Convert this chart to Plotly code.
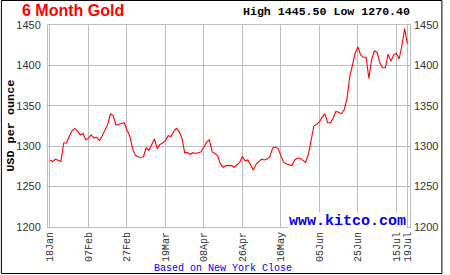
import pandas as pd
import plotly.graph_objects as go

# ---- data ----
dates = pd.bdate_range("2019-01-18", "2019-07-19")
categories = [d.strftime("%d%b") for d in dates]

prices = [
    1283, 1281, 1284, 1282, 1281, 1304, 1304, 1312, 1319, 1322,
    1319, 1314, 1316, 1308, 1310, 1314, 1310, 1311, 1307, 1313,
    1320, 1327, 1340, 1338, 1326, 1327, 1328, 1329, 1320, 1313,
    1298, 1289, 1287, 1286, 1287, 1298, 1295, 1302, 1309, 1297,
    1302, 1304, 1307, 1313, 1312, 1318, 1322, 1318, 1310, 1292,
    1292, 1290, 1292, 1291, 1292, 1293, 1299, 1305, 1308, 1293,
    1291, 1288, 1278, 1274, 1276, 1276, 1276, 1274, 1277, 1280,
    1287, 1282, 1283, 1276, 1270.4, 1278, 1281, 1284, 1283, 1284,
    1287, 1298, 1299, 1297, 1288, 1280, 1278, 1277, 1276, 1283,
    1285, 1285, 1282, 1280, 1290, 1308, 1325, 1327, 1330, 1336,
    1340, 1329, 1329, 1335, 1343, 1342, 1340, 1345, 1358, 1385,
    1399, 1415, 1423, 1413, 1410, 1410, 1384, 1407, 1418, 1416,
    1403, 1397, 1397, 1414, 1405, 1413, 1415, 1408, 1424, 1445.5,
    1427,
]

tick_labels = ["18Jan", "07Feb", "27Feb", "19Mar", "08Apr", "26Apr",
               "16May", "05Jun", "25Jun", "15Jul", "19Jul"]
y_ticks = [1200, 1250, 1300, 1350, 1400, 1450]

title_text = "6 Month Gold"
high_low_text = "High 1445.50 Low 1270.40"
y_title = "USD per ounce"
footer_text = "Based on New York Close"
brand_text = "www.kitco.com"

# ---- geometry (pixels) ----
W, H = 450, 275
L, R, T, B = 48, 33, 25, 48
PW, PH = W - L - R, H - T - B


def px(x):
    return (x - L) / PW


def py(y):
    return (H - B - y) / PH


GRID = "#bdbdbd"
TXT = "#333333"

fig = go.Figure()
fig.add_trace(go.Scatter(x=categories, y=prices, mode="lines",
                         line=dict(color="#ff0000", width=1.1),
                         hoverinfo="skip", showlegend=False))
fig.add_trace(go.Scatter(x=categories, y=prices, mode="lines", yaxis="y2",
                         line=dict(color="rgba(0,0,0,0)", width=0),
                         hoverinfo="skip", showlegend=False))

n = len(categories)
xr = [-0.71, (n - 1) + 0.96]

fig.update_layout(
    width=W, height=H,
    margin=dict(l=L, r=R, t=T, b=B, pad=0),
    paper_bgcolor="white", plot_bgcolor="white",
    showlegend=False,
    xaxis=dict(type="category", range=xr, tickmode="array",
               tickvals=tick_labels, ticktext=tick_labels,
               tickangle=-90, tickfont=dict(family="Liberation Mono", size=10, color=TXT),
               showgrid=True, gridcolor=GRID, gridwidth=1,
               showline=True, linecolor=GRID, linewidth=1, mirror=True,
               ticks="", zeroline=False, fixedrange=True),
    yaxis=dict(range=[1200, 1450], tickvals=y_ticks,
               tickfont=dict(family="Liberation Sans", size=11, color=TXT),
               showgrid=True, gridcolor=GRID, gridwidth=1,
               showline=True, linecolor=GRID, linewidth=1, mirror=True,
               ticks="", zeroline=False, ticklabelstandoff=4),
    yaxis2=dict(range=[1200, 1450], tickvals=y_ticks, overlaying="y", side="right",
                tickfont=dict(family="Liberation Sans", size=11, color=TXT),
                showgrid=False, showline=False, ticks="", zeroline=False,
                ticklabelstandoff=3),
)

ann = []
ann.append(dict(text="<b>%s</b>" % title_text, x=px(20), y=py(10.5), xref="paper", yref="paper",
                xanchor="left", yanchor="middle", showarrow=False, borderpad=0,
                font=dict(family="Liberation Sans", size=16, color="#ff0000")))
ann.append(dict(text="<b>%s</b>" % high_low_text, x=px(419), y=py(11.5), xref="paper", yref="paper",
                xanchor="right", yanchor="middle", showarrow=False,
                font=dict(family="Liberation Mono", size=11.6, color="#000000")))
ann.append(dict(text="<b>%s</b>" % y_title, x=px(10), y=py(126), xref="paper", yref="paper",
                xanchor="center", yanchor="middle", showarrow=False, textangle=-90,
                font=dict(family="Liberation Mono", size=11.8, color="#000000")))
ann.append(dict(text=footer_text, x=px(226), y=py(268.5), xref="paper", yref="paper",
                xanchor="center", yanchor="middle", showarrow=False,
                font=dict(family="Liberation Mono", size=10, color="#0000ff")))
ann.append(dict(text="<b>%s</b>" % brand_text, x=px(293), y=py(221.5), xref="paper", yref="paper",
                xanchor="left", yanchor="middle", showarrow=False, bgcolor="white",
                borderpad=0,
                font=dict(family="Liberation Mono", size=15, color="#0000ff")))
fig.update_layout(annotations=ann)

fig.add_shape(type="rect", xref="paper", yref="paper",
              x0=px(0.5), x1=px(449.5), y0=py(273.5), y1=py(0.5),
              line=dict(color="black", width=1), layer="above")

fig.write_html("out.html")
